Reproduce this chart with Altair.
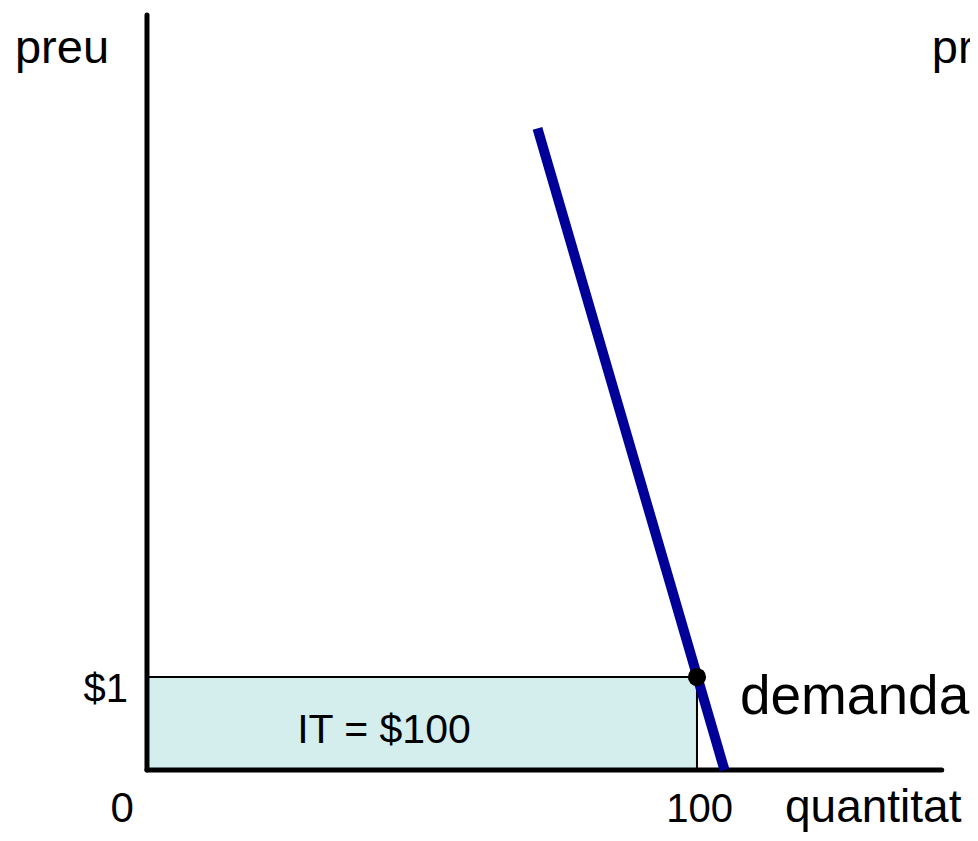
import altair as alt
import pandas as pd

# ---- data ----
demand_q = [71.0, 105.0]      # quantity along the demand curve
demand_p = [6.9, 0.0]         # price along the demand curve
point_q = [100]               # chosen quantity
point_p = [1]                 # chosen price
revenue_label = ["IT = $100"]
x_tick_labels = ["0", "100"]
y_tick_labels = ["$1"]
axis_titles = ["preu", "quantitat"]
curve_label = ["demanda"]

FONT = "Liberation Sans, Arial, sans-serif"
W, H = 962, 826
X_DOM = [-25.27, 149.64]
Y_DOM = [-0.688, 8.194]

xs = alt.Scale(domain=X_DOM, nice=False, zero=False)
ys = alt.Scale(domain=Y_DOM, nice=False, zero=False)

demand_df = pd.DataFrame({"q": demand_q, "p": demand_p})
pt_df = pd.DataFrame({"q": point_q, "p": point_p})
rect_df = pd.DataFrame({"q0": [0], "q1": point_q, "p0": [0], "p1": point_p})

base = alt.Chart(pd.DataFrame({"d": [0]}))

area = alt.Chart(rect_df).mark_rect(
    fill="#d3eeec", stroke="black", strokeWidth=2
).encode(
    x=alt.X("q0:Q", scale=xs, axis=None), x2="q1:Q",
    y=alt.Y("p0:Q", scale=ys, axis=None), y2="p1:Q",
)

y_axis = base.mark_rule(color="black", strokeWidth=5, strokeCap="round").encode(
    x=alt.X(datum=0, scale=xs, axis=None),
    y=alt.Y(datum=0, scale=ys, axis=None),
    y2=alt.datum(8.12),
)
x_axis = base.mark_rule(color="black", strokeWidth=5, strokeCap="round").encode(
    y=alt.Y(datum=0, scale=ys, axis=None),
    x=alt.X(datum=0, scale=xs, axis=None),
    x2=alt.datum(144.5),
)

demand = alt.Chart(demand_df).mark_line(
    color="#000099", strokeWidth=10, strokeCap="butt"
).encode(
    x=alt.X("q:Q", scale=xs, axis=None),
    y=alt.Y("p:Q", scale=ys, axis=None),
)

point = alt.Chart(pt_df).mark_point(
    filled=True, color="black", size=330, opacity=1, shape="circle"
).encode(
    x=alt.X("q:Q", scale=xs, axis=None),
    y=alt.Y("p:Q", scale=ys, axis=None),
)


def label(text, q, p, size, align="left"):
    return base.mark_text(
        text=text, font=FONT, fontSize=size, color="black",
        align=align, baseline="alphabetic",
    ).encode(
        x=alt.X(datum=q, scale=xs, axis=None),
        y=alt.Y(datum=p, scale=ys, axis=None),
    )


texts = [
    label(axis_titles[0], -24.0, 7.60, 47),
    label(axis_titles[0], 142.7, 7.60, 47),
    label(y_tick_labels[0], -3.45, 0.73, 40, "right"),
    label(x_tick_labels[0], -4.5, -0.56, 42, "center"),
    label(x_tick_labels[1], 100.5, -0.56, 40, "center"),
    label(axis_titles[1], 116.0, -0.56, 46),
    label(curve_label[0], 107.8, 0.60, 55),
    label(revenue_label[0], 27.3, 0.29, 41),
]

chart = alt.layer(area, y_axis, x_axis, demand, point, *texts).properties(
    width=W, height=H, padding=0, autosize=alt.AutoSizeParams(type="none")
).configure_view(stroke=None)

chart.save("out.html", embed_options={"renderer": "svg", "actions": False})
